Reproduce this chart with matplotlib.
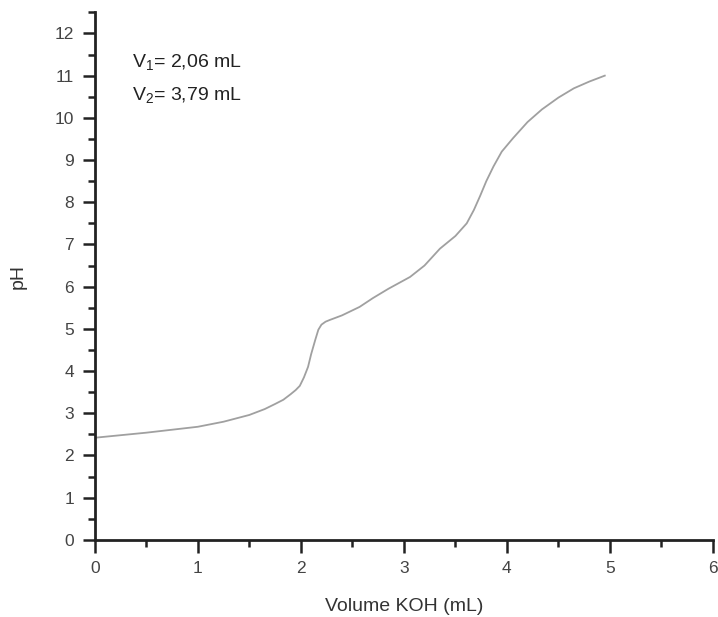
import numpy as np
import matplotlib.pyplot as plt
from matplotlib.ticker import MultipleLocator

plt.rcParams['font.family'] = ['Liberation Sans', 'DejaVu Sans']
plt.rcParams['mathtext.fontset'] = 'custom'
plt.rcParams['mathtext.rm'] = 'Liberation Sans'
plt.rcParams['mathtext.it'] = 'Liberation Sans'
plt.rcParams['mathtext.default'] = 'regular'

# titration curve
volume = [0.0, 0.25, 0.5, 0.75, 1.0, 1.25, 1.5, 1.65, 1.75, 1.83, 1.9, 1.95, 1.99,
          2.03, 2.07, 2.1, 2.14, 2.17, 2.2, 2.24, 2.28, 2.4, 2.57, 2.7, 2.85,
          3.06, 3.2, 3.35, 3.5, 3.61, 3.68, 3.74, 3.8, 3.87, 3.95, 4.06, 4.2,
          4.34, 4.5, 4.65, 4.8, 4.95]
ph = [2.42, 2.48, 2.54, 2.61, 2.68, 2.8, 2.96, 3.1, 3.22, 3.32, 3.45, 3.55, 3.65,
      3.85, 4.1, 4.4, 4.74, 4.98, 5.1, 5.17, 5.21, 5.32, 5.52, 5.73, 5.95,
      6.23, 6.5, 6.9, 7.2, 7.5, 7.82, 8.15, 8.5, 8.85, 9.2, 9.52, 9.9,
      10.2, 10.48, 10.7, 10.86, 11.0]

v1_label = r'V$_1$= 2,06 mL'
v2_label = r'V$_2$= 3,79 mL'

fig = plt.figure(figsize=(7.18, 6.17), dpi=100)
ax = fig.add_axes([0.132, 0.125, 0.861, 0.855])

ax.plot(volume, ph, color='#a0a0a0', lw=1.3)

ax.set_xlim(0, 6)
ax.set_ylim(0, 12.5)
ax.xaxis.set_major_locator(MultipleLocator(1))
ax.xaxis.set_minor_locator(MultipleLocator(0.5))
ax.yaxis.set_major_locator(MultipleLocator(1))
ax.yaxis.set_minor_locator(MultipleLocator(0.5))

for side in ['top', 'right']:
    ax.spines[side].set_visible(False)
for side in ['left', 'bottom']:
    ax.spines[side].set_linewidth(2)
    ax.spines[side].set_color('#222222')

ax.tick_params(which='major', length=9, width=1.8, color='#222222',
               labelsize=12.5, labelcolor='#444444', pad=6)
ax.tick_params(which='minor', length=5, width=1.8, color='#222222')

ax.set_xlabel('Volume KOH (mL)', fontsize=14, color='#333333', labelpad=16)
ax.set_ylabel('pH', fontsize=14, color='#333333', labelpad=20)

ax.text(0.36, 11.2, v1_label, fontsize=14, color='#222222')
ax.text(0.36, 10.42, v2_label, fontsize=14, color='#222222')

fig.savefig('out.png', dpi=100)
